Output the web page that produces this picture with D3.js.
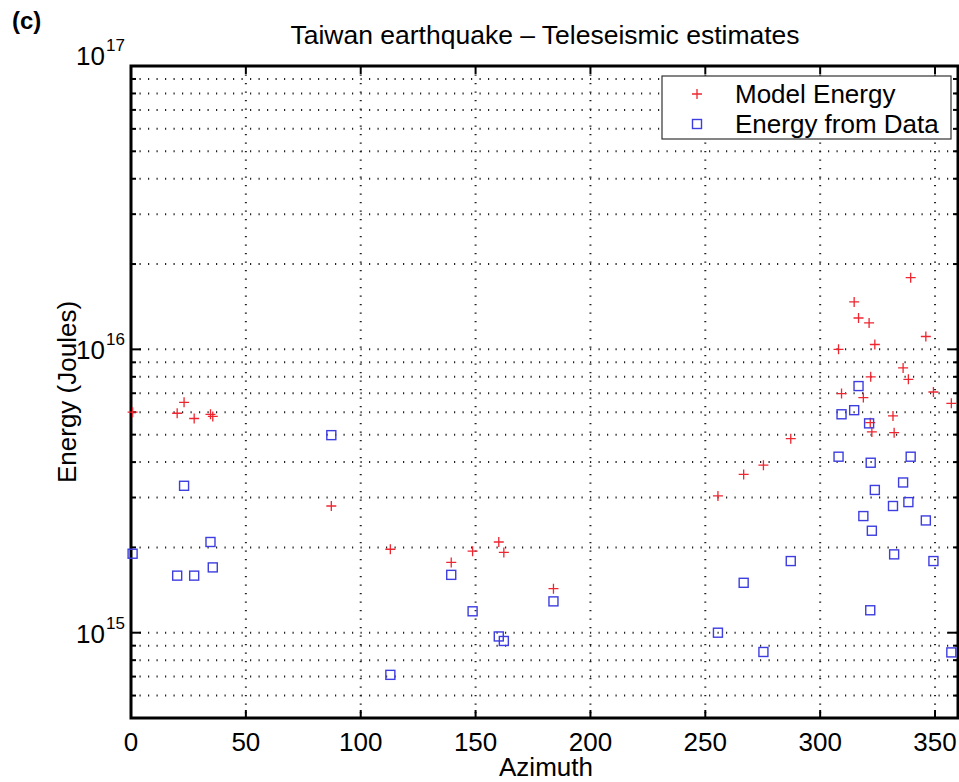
<!DOCTYPE html>
<html>
<head>
<meta charset="utf-8">
<script src="https://cdn.jsdelivr.net/npm/d3@7"></script>
<style>
  body { margin: 0; background: #fff; }
  svg { display: block; font-family: "Liberation Sans", Arial, sans-serif; }
</style>
</head>
<body>
<svg width="959" height="782"></svg>
<script>

// station azimuths (degrees) and the two energy estimates (Joules)
const azimuth = [0.7, 20.1, 23.1, 27.5, 34.6, 35.6, 87.2,
    112.9, 139.4, 148.7, 160.1, 162.3, 183.9,
    255.5, 266.7, 275.3, 287.2,
    308.0, 309.3, 314.8, 316.7, 318.8, 321.3, 321.8, 322.0, 322.5, 323.8,
    331.7, 332.2, 336.1, 338.4, 339.4, 346.0, 349.3, 357.1];

const modelEnergy = [6.0e15, 5.95e15, 6.5e15, 5.7e15, 5.9e15, 5.8e15, 2.8e15,
    1.97e15, 1.77e15, 1.94e15, 2.09e15, 1.92e15, 1.43e15,
    3.04e15, 3.62e15, 3.9e15, 4.84e15,
    1.0e16, 6.98e15, 1.47e16, 1.29e16, 6.76e15, 1.24e16, 5.51e15, 8.0e15, 5.11e15, 1.04e16,
    5.82e15, 5.08e15, 8.6e15, 7.84e15, 1.79e16, 1.11e16, 7.07e15, 6.45e15];

const dataEnergy = [1.9e15, 1.59e15, 3.3e15, 1.59e15, 2.09e15, 1.70e15, 4.98e15,
    7.1e14, 1.6e15, 1.19e15, 9.7e14, 9.35e14, 1.29e15,
    1.0e15, 1.5e15, 8.55e14, 1.79e15,
    4.18e15, 5.9e15, 6.1e15, 7.42e15, 2.58e15, 5.48e15, 1.2e15, 3.98e15, 2.29e15, 3.19e15,
    2.8e15, 1.89e15, 3.39e15, 2.89e15, 4.18e15, 2.49e15, 1.79e15, 8.52e14];

const xTicks = [0, 50, 100, 150, 200, 250, 300, 350];
const yMajor = [1e15, 1e16, 1e17];
const legendLabels = ['Model Energy', 'Energy from Data'];

const svg = d3.select('svg');

const pLeft = 131, pRight = 958, pTop = 66, pBottom = 718;

const x = d3.scaleLinear().domain([0, 360]).range([pLeft, pRight]);
const y = d3.scaleLog().domain([5e14, 1e17]).range([pBottom, pTop]);

const yAll = y.ticks();   // 5e14, 6e14 ... 1e17
const red = '#ee2630', blue = '#3d3de0';

// dotted grid
const grid = svg.append('g')
    .attr('stroke', '#222')
    .attr('stroke-width', 2)
    .attr('stroke-dasharray', '1.2,7.3');

grid.selectAll('line.h')
    .data(yAll.filter(v => v > 5e14 && v < 1e17))
    .enter()
    .append('line')
        .attr('class', 'h')
        .attr('x1', pLeft).attr('x2', pRight)
        .attr('y1', d => y(d)).attr('y2', d => y(d));

grid.selectAll('line.v')
    .data(xTicks.filter(v => v > 0))
    .enter()
    .append('line')
        .attr('class', 'v')
        .attr('y1', pTop).attr('y2', pBottom)
        .attr('x1', d => x(d)).attr('x2', d => x(d));

// ticks, inward on all four sides
const ticks = svg.append('g').attr('stroke', '#000').attr('stroke-width', 2);

yAll.forEach(v => {
    const len = yMajor.includes(v) ? 10 : 5;
    ticks.append('line').attr('x1', pLeft).attr('x2', pLeft + len).attr('y1', y(v)).attr('y2', y(v));
    ticks.append('line').attr('x1', pRight).attr('x2', pRight - len).attr('y1', y(v)).attr('y2', y(v));
});
xTicks.forEach(v => {
    ticks.append('line').attr('x1', x(v)).attr('x2', x(v)).attr('y1', pBottom).attr('y2', pBottom - 8);
    ticks.append('line').attr('x1', x(v)).attr('x2', x(v)).attr('y1', pTop).attr('y2', pTop + 8);
});

// frame
svg.append('rect')
    .attr('x', pLeft).attr('y', pTop)
    .attr('width', pRight - pLeft).attr('height', pBottom - pTop)
    .attr('fill', 'none')
    .attr('stroke', '#000')
    .attr('stroke-width', 3);

// points
svg.append('g').selectAll('path')
    .data(azimuth)
    .enter()
    .append('path')
        .attr('d', 'M-5,0H5M0,-5V5')
        .attr('transform', (d, i) => `translate(${x(d)},${y(modelEnergy[i])})`)
        .attr('stroke', red)
        .attr('stroke-width', 1.3)
        .attr('fill', 'none');

svg.append('g').selectAll('rect')
    .data(azimuth)
    .enter()
    .append('rect')
        .attr('x', d => x(d) - 4.5)
        .attr('y', (d, i) => y(dataEnergy[i]) - 4.5)
        .attr('width', 9).attr('height', 9)
        .attr('stroke', blue)
        .attr('stroke-width', 1.4)
        .attr('fill', 'none');

// tick labels
svg.append('g').selectAll('text')
    .data(xTicks)
    .enter()
    .append('text')
        .attr('x', d => x(d))
        .attr('y', 751)
        .attr('text-anchor', 'middle')
        .attr('font-size', 26)
        .text(d => d);

const yl = svg.append('g');
yMajor.forEach(v => {
    const base = y(v) + (v === 1e17 ? -1 : 10);
    yl.append('text')
        .attr('x', 105).attr('y', base)
        .attr('text-anchor', 'end')
        .attr('font-size', 26)
        .text('10');
    yl.append('text')
        .attr('x', 106).attr('y', base - 14)
        .attr('font-size', 17)
        .text(Math.round(Math.log10(v)));
});

// titles
svg.append('text')
    .attr('x', 545).attr('y', 44)
    .attr('text-anchor', 'middle')
    .attr('font-size', 26.5)
    .text('Taiwan earthquake \u2013 Teleseismic estimates');

svg.append('text')
    .attr('x', 546).attr('y', 776)
    .attr('text-anchor', 'middle')
    .attr('font-size', 26)
    .text('Azimuth');

svg.append('text')
    .attr('transform', 'translate(76,392) rotate(-90)')
    .attr('text-anchor', 'middle')
    .attr('font-size', 26)
    .text('Energy (Joules)');

svg.append('text')
    .attr('x', 12).attr('y', 29)
    .attr('font-size', 24)
    .attr('font-weight', 'bold')
    .text('(c)');

// legend
const lg = svg.append('g');
lg.append('rect')
    .attr('x', 662).attr('y', 76)
    .attr('width', 289).attr('height', 63)
    .attr('fill', '#fff')
    .attr('stroke', '#333')
    .attr('stroke-width', 1.2);

lg.append('path')
    .attr('d', 'M-5,0H5M0,-5V5')
    .attr('transform', 'translate(697,94)')
    .attr('stroke', red).attr('stroke-width', 1.3);
lg.append('rect')
    .attr('x', 692.5).attr('y', 119.5)
    .attr('width', 9).attr('height', 9)
    .attr('fill', 'none')
    .attr('stroke', blue).attr('stroke-width', 1.4);

lg.selectAll('text')
    .data(legendLabels)
    .enter()
    .append('text')
        .attr('x', 735)
        .attr('y', (d, i) => 103 + i * 30)
        .attr('font-size', 26)
        .text(d => d);

</script>
</body>
</html>
